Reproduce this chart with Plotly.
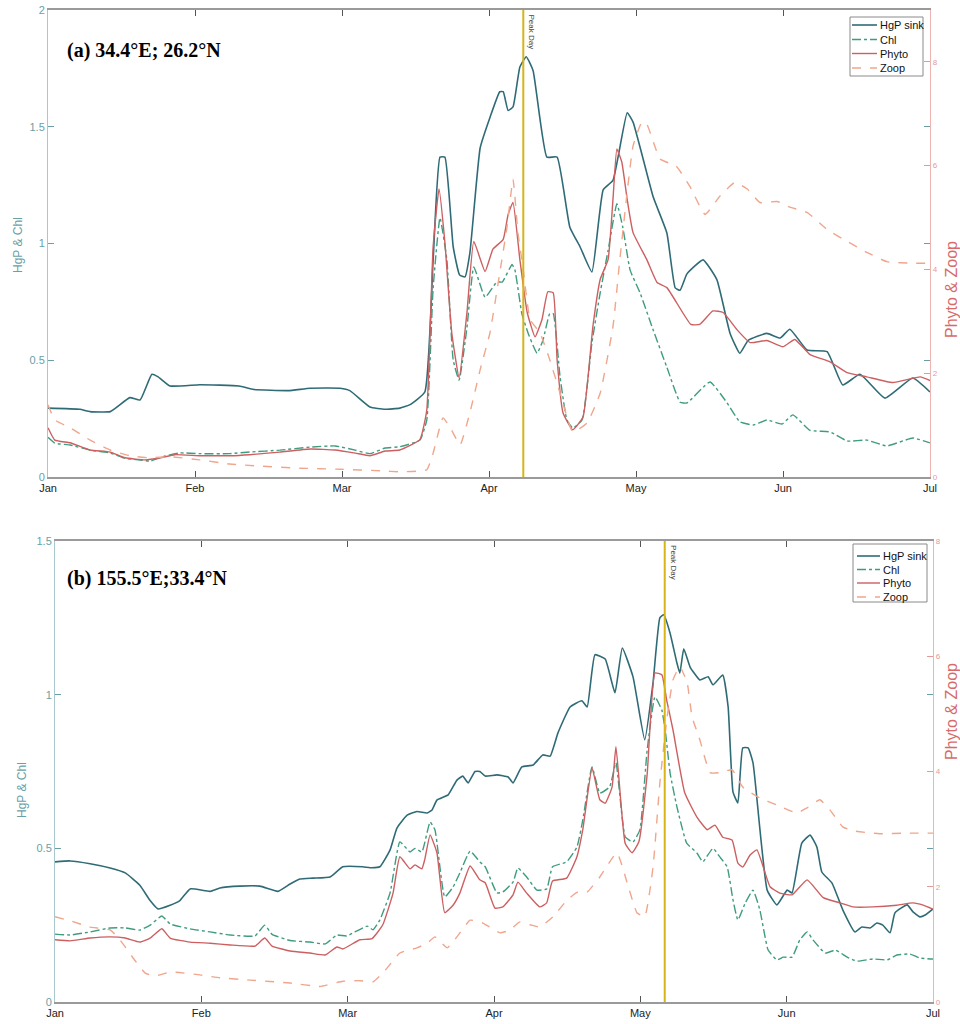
import plotly.graph_objects as go

# ---------------- DATA (day of year from Jan 1; months drawn as 30-day steps) ----------------
MONTH_TICKS = [0, 30, 60, 90, 120, 150, 180]
MONTH_LABELS = ["Jan", "Feb", "Mar", "Apr", "May", "Jun", "Jul"]

# Panel (a) 34.4E; 26.2N
A_hgp_day = [0, 6.5, 8.6, 12.7, 16.7, 18.8, 21.2, 22.4, 24.9, 31, 39, 42, 49, 53.5, 59.6, 61.6, 65.7, 68.8, 71.8, 73.9,
             76.9, 78.6, 80, 81, 82.7, 84, 85.1, 86.1, 88.2, 90.2, 92.2, 92.9, 93.9, 94.9, 96.3, 97.6, 99, 101.8, 103.9,
             106.5, 108.6, 111, 113.3, 115.3, 118.2, 119.4, 123.5, 126.3, 128, 129, 130.4, 133.7, 136.5, 139.2, 141.2,
             142.9, 146.7, 149.4, 151.4, 154.9, 159, 162.2, 165.7, 170.8, 176.5, 180]
A_hgp = [0.295, 0.29, 0.28, 0.28, 0.34, 0.33, 0.44, 0.43, 0.39, 0.395, 0.39, 0.375, 0.37, 0.38, 0.38, 0.37, 0.30, 0.29,
         0.295, 0.31, 0.364, 0.93, 1.37, 1.37, 0.985, 0.865, 0.857, 0.96, 1.41, 1.54, 1.65, 1.65, 1.57, 1.585, 1.756,
         1.80, 1.74, 1.37, 1.37, 1.07, 0.985, 0.878, 1.23, 1.27, 1.56, 1.52, 1.2, 1.045, 0.81, 0.80, 0.87, 0.93, 0.845,
         0.615, 0.53, 0.585, 0.615, 0.595, 0.633, 0.544, 0.537, 0.394, 0.44, 0.338, 0.424, 0.364]

A_chl_day = [0, 1.4, 4.5, 8.6, 12.7, 15.7, 18.8, 20.8, 23.9, 26.9, 31, 37.1, 41.2, 47.3, 53.5, 58.6, 62.7, 65.7, 68.8,
             71.8, 75.9, 77.3, 78.6, 80, 81.4, 82.7, 83.9, 85.5, 86.9, 89.2, 91.6, 92.7, 94.7, 95.3, 96.7, 98, 99.8, 101,
             102.4, 103.1, 104.5, 105.9, 107.1, 109, 111, 112.7, 114.3, 116.1, 117.3, 118.8, 120.8, 123.5, 126.3, 129,
             130.4, 135.1, 138.6, 141.2, 143.9, 146.7, 149.8, 152, 155.5, 159.6, 163.1, 167.1, 171.2, 176.5, 180]
A_chl = [0.17, 0.145, 0.137, 0.115, 0.103, 0.08, 0.073, 0.068, 0.09, 0.103, 0.1, 0.1, 0.107, 0.115, 0.128, 0.133, 0.115,
         0.1, 0.124, 0.13, 0.158, 0.244, 0.81, 1.11, 0.93, 0.50, 0.415, 0.64, 0.90, 0.77, 0.835, 0.835, 0.91, 0.886, 0.70,
         0.615, 0.53, 0.585, 0.70, 0.70, 0.43, 0.244, 0.21, 0.244, 0.574, 0.79, 0.97, 1.17, 1.07, 0.886, 0.79, 0.63, 0.47,
         0.32, 0.317, 0.407, 0.317, 0.236, 0.223, 0.244, 0.227, 0.266, 0.2, 0.193, 0.154, 0.158, 0.133, 0.167, 0.146]

A_phy_day = [0, 1.4, 4.5, 8.6, 12.7, 15.7, 19.8, 22.9, 25.9, 31, 37.1, 41.2, 47.3, 53.5, 58.6, 62.7, 65.7, 68.8, 71.8,
             75.9, 77.3, 78.6, 79.8, 81, 82.4, 83.9, 85.5, 86.9, 89.2, 90.8, 92.9, 93.9, 94.9, 96.3, 97.8, 99.4, 100.8,
             102, 103.1, 103.9, 105.1, 107.1, 109.2, 111.2, 112.7, 114.3, 115.3, 116.1, 117.1, 118.2, 119.4, 122.2, 124.3,
             126.3, 131.2, 133, 135.7, 137.8, 140.6, 143.3, 146.7, 150, 152.4, 155.5, 159.6, 163.1, 167.1, 172.4, 178,
             180]
A_phy = [0.95, 0.71, 0.66, 0.52, 0.48, 0.37, 0.33, 0.37, 0.43, 0.41, 0.41, 0.43, 0.48, 0.54, 0.52, 0.46, 0.41, 0.5,
         0.52, 0.72, 1.29, 4.44, 5.55, 4.52, 2.78, 1.91, 3.17, 4.54, 3.96, 4.39, 4.58, 5.06, 5.29, 4.19, 3.17, 2.7,
         3.03, 3.57, 3.55, 2.26, 1.24, 0.91, 1.16, 2.9, 3.81, 4.19, 5.35, 6.32, 6.07, 5.35, 4.71, 4.19, 3.75, 3.65,
         2.94, 2.94, 3.2, 3.17, 2.84, 2.59, 2.63, 2.51, 2.65, 2.36, 2.22, 2.01, 1.93, 1.82, 1.93, 1.86]

A_zoo_day = [0, 1.4, 4.5, 8.6, 12.7, 16.7, 20.8, 24.9, 31, 37.1, 43.3, 51.4, 59.6, 67.8, 72, 77.3, 78.6, 80.6, 82, 84.1,
             86.1, 88.2, 90.2, 92.2, 93.7, 94.9, 95.9, 96.9, 98.4, 100.4, 102.4, 104.5, 107.1, 110, 112.7, 115.3, 116.7,
             118.2, 119.4, 121.2, 122.2, 124.9, 128.2, 131, 134.1, 137.1, 140.2, 142.7, 145.3, 148.8, 151.4, 154.9, 159,
             163.1, 167.1, 171.2, 176.5, 180]
A_zoo = [1.39, 1.1, 0.95, 0.71, 0.52, 0.41, 0.37, 0.39, 0.33, 0.25, 0.21, 0.17, 0.15, 0.12, 0.1, 0.14, 0.46, 1.14, 0.97,
         0.62, 1.24, 2.07, 2.78, 3.94, 4.83, 5.74, 4.71, 4.06, 3.03, 2.78, 2.26, 1.62, 0.87, 1.04, 1.62, 2.9, 4.19,
         5.49, 6.38, 6.84, 6.8, 6.13, 5.99, 5.6, 5.06, 5.41, 5.68, 5.55, 5.29, 5.31, 5.2, 5.1, 4.77, 4.54, 4.33, 4.15,
         4.12, 4.12]
A_PEAK_DAY = 97
A_TITLE = "(a) 34.4°E; 26.2°N"

# Panel (b) 155.5E; 33.4N
B_hgp_day = [0, 3.1, 7.2, 11.3, 14.4, 17.4, 19.5, 21.1, 23.6, 25.6, 27.7, 31.8, 33.8, 37.9, 42, 45.7, 48.2, 50.2, 52.9,
             56.4, 59, 63.1, 64.6, 66.6, 68.7, 70.1, 72.2, 74.2, 76.3, 77.3, 78.3, 80.6, 82.4, 83.6, 84.7, 86.1, 87.1,
             88.2, 90.6, 92.9, 93.9, 95.7, 98, 100, 101.5, 103.1, 105.6, 108, 109.1, 110.7, 112.8, 114.8, 116.3, 118.5,
             120.9, 122.6, 124, 124.8, 126.1, 127.5, 128.1, 128.9, 130.2, 132.2, 133.9, 134.9, 136.9, 138, 139, 140, 141,
             142.1, 143.1, 146, 148, 150.1, 151.1, 153.1, 154.8, 156.2, 157.2, 159.3, 161.5, 164, 165.4, 167.1, 168.5,
             169.7, 171.2, 172.2, 174.7, 175.9, 177.3, 178.4, 180]
B_hgp = [0.456, 0.459, 0.45, 0.436, 0.42, 0.38, 0.33, 0.303, 0.315, 0.33, 0.368, 0.36, 0.371, 0.377, 0.377, 0.36, 0.384,
         0.4, 0.403, 0.407, 0.44, 0.44, 0.437, 0.44, 0.495, 0.566, 0.608, 0.62, 0.615, 0.625, 0.657, 0.674, 0.722, 0.735,
         0.713, 0.75, 0.75, 0.735, 0.739, 0.732, 0.713, 0.765, 0.771, 0.804, 0.8, 0.875, 0.96, 0.98, 0.96, 1.13, 1.116,
         1.006, 1.152, 1.058, 0.853, 1.038, 1.25, 1.26, 1.2, 1.103, 1.07, 1.149, 1.09, 1.048, 1.058, 1.032, 1.064, 0.96,
         0.683, 0.648, 0.827, 0.827, 0.778, 0.364, 0.316, 0.364, 0.355, 0.517, 0.543, 0.504, 0.423, 0.387, 0.3, 0.228,
         0.244, 0.241, 0.257, 0.25, 0.225, 0.29, 0.316, 0.293, 0.277, 0.283, 0.303]

B_chl_day = [0, 3.1, 7.2, 11.3, 14.4, 17.4, 19.5, 21.9, 23.6, 27.7, 31.8, 35.9, 41, 43, 44.5, 48.2, 52.3, 55.4, 57.8,
             59.8, 64, 65.2, 66.6, 68.7, 70.7, 72.8, 73.8, 75.2, 76.9, 77.9, 79.9, 81.6, 83, 85.1, 87.1, 88.2, 90.6, 91.8,
             93.9, 94.9, 96.7, 98.8, 100.8, 102, 104.9, 107, 108.2, 110.1, 111.7, 113.7, 115, 116.9, 118.5, 119.9, 121.4,
             123, 124.4, 125.1, 126.1, 127.5, 129.5, 131.6, 132.8, 134.9, 136.3, 137.8, 139, 140, 141.5, 143.1, 144.5,
             146.2, 148, 149.3, 151.1, 152.7, 154.2, 155.4, 157.9, 160, 162.4, 164.4, 167.7, 170.6, 172.6, 175.3, 177.3,
             180]
B_chl = [0.221, 0.218, 0.228, 0.241, 0.241, 0.234, 0.25, 0.28, 0.254, 0.238, 0.228, 0.218, 0.215, 0.25, 0.22, 0.2, 0.195,
         0.189, 0.218, 0.215, 0.247, 0.235, 0.267, 0.355, 0.521, 0.488, 0.5, 0.488, 0.586, 0.56, 0.342, 0.374, 0.42,
         0.491, 0.456, 0.44, 0.355, 0.358, 0.39, 0.436, 0.407, 0.364, 0.368, 0.44, 0.456, 0.504, 0.592, 0.765, 0.68, 0.7,
         0.778, 0.537, 0.521, 0.56, 0.82, 0.993, 0.95, 0.885, 0.745, 0.635, 0.517, 0.485, 0.456, 0.5, 0.472, 0.44, 0.332,
         0.267, 0.322, 0.364, 0.3, 0.169, 0.137, 0.146, 0.146, 0.202, 0.228, 0.202, 0.159, 0.169, 0.146, 0.133, 0.14,
         0.137, 0.153, 0.156, 0.143, 0.14]

B_phy_day = [0, 3.1, 7.2, 11.3, 14.4, 17.4, 19.5, 21.9, 23.6, 27.7, 31.8, 35.9, 41, 43, 44.5, 48.2, 52.3, 55.4, 57.8,
             59, 62.5, 65, 67.2, 69.3, 70.7, 72.8, 73.8, 75.2, 75.8, 76.9, 78.3, 79.9, 81.6, 83, 85.1, 87.1, 88.2, 90.2,
             91.8, 93.9, 94.9, 96.7, 99.4, 100.8, 102, 104.9, 107, 108.2, 110.1, 111.7, 112.8, 114.2, 115, 116.9, 118.3,
             119.7, 121.4, 123, 124.4, 125.4, 126.7, 129.1, 131.6, 133.7, 135.3, 136.9, 138.8, 140, 141, 142.5, 143.9,
             146.6, 148.6, 151.1, 154.2, 157.5, 160.9, 163.6, 167.7, 172.6, 175.9, 178, 180]
B_phy = [1.08, 1.06, 1.11, 1.13, 1.11, 1.04, 1.11, 1.27, 1.11, 1.04, 1.02, 0.99, 0.97, 1.11, 0.97, 0.885, 0.85, 0.816,
         0.955, 0.92, 1.08, 1.1, 1.34, 1.89, 2.52, 2.31, 2.38, 2.31, 2.47, 2.9, 2.59, 1.55, 1.68, 1.89, 2.36, 2.12, 2.07,
         1.63, 1.65, 1.86, 2.08, 1.89, 1.65, 1.72, 2.1, 2.15, 2.52, 2.99, 4.06, 3.51, 3.45, 3.73, 4.43, 2.75, 2.59, 2.78,
         3.95, 5.71, 5.68, 5.24, 4.72, 3.63, 3.21, 2.99, 3.07, 2.86, 2.81, 2.41, 2.34, 2.55, 2.64, 2.0, 1.89, 1.86, 2.12,
         1.81, 1.72, 1.65, 1.65, 1.68, 1.72, 1.68, 1.61]

B_zoo_day = [0, 3.1, 7.2, 11.3, 13.3, 16.4, 18.5, 20.5, 23.6, 29.7, 33.8, 40, 48.2, 54.3, 59, 62.5, 65.2, 67.2, 70.7,
             74.2, 76.3, 77.9, 80.4, 82.4, 85.1, 87.7, 91.2, 93.3, 95.3, 97.4, 99.4, 102.1, 105, 107.2, 109.1, 111.7,
             115.2, 117.3, 119.3, 120.9, 122.6, 124, 125.5, 126.7, 128.1, 129.6, 130.6, 132.2, 134.3, 136.3, 138.8, 141,
             144.5, 148, 152.1, 154.2, 156.8, 158.9, 161.5, 163.6, 169.1, 174.7, 180]
B_zoo = [1.48, 1.41, 1.3, 1.25, 1.08, 0.72, 0.5, 0.45, 0.52, 0.47, 0.42, 0.38, 0.33, 0.27, 0.36, 0.37, 0.35, 0.5, 0.85,
         0.94, 1.02, 1.13, 0.94, 1.13, 1.42, 1.37, 1.2, 1.25, 1.39, 1.34, 1.3, 1.48, 1.77, 1.91, 1.91, 2.17, 2.59, 2.07,
         1.55, 1.48, 2.34, 3.8, 4.95, 5.59, 5.82, 5.54, 4.95, 4.55, 3.98, 3.98, 4.03, 3.73, 3.54, 3.42, 3.28, 3.37, 3.51,
         3.33, 3.04, 2.97, 2.92, 2.93, 2.93]
B_PEAK_DAY = 125
B_TITLE = "(b) 155.5°E;33.4°N"

SERIES_NAMES = ["HgP sink", "Chl", "Phyto", "Zoop"]

# ---------------- STYLE ----------------
W, H = 960, 1024


def fx(p):
    return p / W


def fy(p):
    return 1 - p / H


C_HGP = "#2f6b76"
C_CHL = "#3f9c7f"
C_PHY = "#cc5f60"
C_ZOO = "#f0a68c"
C_LEFT = "#6a9fa8"
C_RIGHT = "#e59a9a"
C_PEAK = "#d8b419"
C_GREY = "#9a9a9a"
FONT = "Liberation Sans, Arial"

fig = go.Figure()

panels = [
    dict(x="x", yl="y", yr="y2",
         data=[(A_hgp_day, A_hgp), (A_chl_day, A_chl), (A_phy_day, A_phy), (A_zoo_day, A_zoo)]),
    dict(x="x2", yl="y3", yr="y4",
         data=[(B_hgp_day, B_hgp), (B_chl_day, B_chl), (B_phy_day, B_phy), (B_zoo_day, B_zoo)]),
]
styles = [
    dict(color=C_HGP, dash="solid", width=1.6, side="l"),
    dict(color=C_CHL, dash="dashdot", width=1.4, side="l"),
    dict(color=C_PHY, dash="solid", width=1.4, side="r"),
    dict(color=C_ZOO, dash="dash", width=1.4, side="r"),
]

for p in panels:
    for name, (dx, dy), st in zip(SERIES_NAMES, p["data"], styles):
        fig.add_trace(go.Scatter(
            x=dx, y=dy, mode="lines", name=name, showlegend=False,
            line=dict(color=st["color"], dash=st["dash"], width=st["width"], shape="spline", smoothing=0.4),
            xaxis=p["x"], yaxis=p["yl"] if st["side"] == "l" else p["yr"],
        ))


def xax(domain, anchor):
    return dict(domain=domain, anchor=anchor, range=[0, 180], tickvals=MONTH_TICKS, ticktext=MONTH_LABELS,
                showline=True, linecolor=C_GREY, linewidth=2, mirror="ticks", ticks="inside", ticklen=6,
                tickcolor="#555", tickwidth=1, showgrid=False, zeroline=False, automargin=False,
                tickfont=dict(family=FONT, size=11, color="#222"))


def yl(domain, anchor, rng, tv, tt):
    return dict(domain=domain, anchor=anchor, range=rng, tickvals=tv, ticktext=tt, showline=True,
                linecolor="#a9c8cd", linewidth=1, ticks="inside", ticklen=6, tickcolor=C_LEFT, mirror="ticks",
                showgrid=False, zeroline=False, automargin=False,
                tickfont=dict(family=FONT, size=11, color=C_LEFT))


def yr(overlay, anchor, rng):
    return dict(overlaying=overlay, anchor=anchor, side="right", range=rng, tickvals=[0, 2, 4, 6, 8],
                showline=True, linecolor="#eeb4b4", linewidth=1.2, ticks="inside", ticklen=6, tickcolor=C_RIGHT,
                showgrid=False, zeroline=False, automargin=False,
                tickfont=dict(family=FONT, size=8, color=C_RIGHT))


xa_dom = [fx(48), fx(930)]
xb_dom = [fx(55), fx(933)]
ya_dom = [fy(477), fy(10)]
yb_dom = [fy(1002), fy(541)]

fig.update_layout(
    width=W, height=H, autosize=False, margin=dict(l=0, r=0, t=0, b=0, pad=0, autoexpand=False),
    paper_bgcolor="white", plot_bgcolor="white", showlegend=False, hovermode=False,
    xaxis=xax(xa_dom, "y"),
    yaxis=yl(ya_dom, "x", [0, 2], [0, 0.5, 1, 1.5, 2], ["0", "0.5", "1", "1.5", "2"]),
    yaxis2=yr("y", "x", [0, 9]),
    xaxis2=xax(xb_dom, "y3"),
    yaxis3=yl(yb_dom, "x2", [0, 1.5], [0, 0.5, 1, 1.5], ["0", "0.5", "1", "1.5"]),
    yaxis4=yr("y3", "x2", [0, 8]),
)

# Peak day lines
for xr, yref, day in [("x", "y", A_PEAK_DAY), ("x2", "y3", B_PEAK_DAY)]:
    fig.add_shape(type="line", xref=xr, yref=yref + " domain", x0=day, x1=day, y0=0, y1=1,
                  line=dict(color=C_PEAK, width=2))
    fig.add_annotation(xref=xr, yref=yref + " domain", x=day, y=0.995, xshift=8, yanchor="top",
                       text="Peak Day", textangle=90, showarrow=False,
                       font=dict(family=FONT, size=8, color="#444"))

# Legends drawn as boxes with line samples (compact MATLAB-style)
legend_specs = [
    dict(box=(850, 17, 923, 76), rows=[25, 39.5, 53.5, 68], x0=852, x1=877, tx=878),
    dict(box=(853, 544, 927, 602), rows=[556, 569.5, 583, 597], x0=857, x1=880, tx=881),
]
for spec in legend_specs:
    bx0, by0, bx1, by1 = spec["box"]
    fig.add_shape(type="rect", xref="paper", yref="paper", x0=fx(bx0), x1=fx(bx1), y0=fy(by1), y1=fy(by0),
                  line=dict(color="#8a8a8a", width=1), fillcolor="white", layer="above")
    for name, st, ry in zip(SERIES_NAMES, styles, spec["rows"]):
        fig.add_shape(type="line", xref="paper", yref="paper", x0=fx(spec["x0"]), x1=fx(spec["x1"]),
                      y0=fy(ry), y1=fy(ry), layer="above",
                      line=dict(color=st["color"], dash=st["dash"], width=st["width"]))
        fig.add_annotation(xref="paper", yref="paper", x=fx(spec["tx"]), y=fy(ry), xanchor="left",
                           yanchor="middle", text=name, showarrow=False,
                           font=dict(family=FONT, size=11, color="#111"))

# Panel titles
for title, ypix in [(A_TITLE, 50), (B_TITLE, 578)]:
    fig.add_annotation(xref="paper", yref="paper", x=fx(65), y=fy(ypix), xanchor="left", yanchor="middle",
                       text="<b>" + title + "</b>", showarrow=False,
                       font=dict(family="Liberation Serif, Times New Roman", size=20, color="#000"))

# Axis labels
for txt, xp, ypix, col, size in [("HgP & Chl", 18, 245, C_LEFT, 12), ("Phyto & Zoop", 951, 290, "#d96a6a", 16),
                                  ("HgP & Chl", 22, 790, C_LEFT, 12), ("Phyto & Zoop", 951, 712, "#d96a6a", 16)]:
    fig.add_annotation(xref="paper", yref="paper", x=fx(xp), y=fy(ypix), text=txt, textangle=-90,
                       showarrow=False, xanchor="center", yanchor="middle",
                       font=dict(family=FONT, size=size, color=col))

# remove the page's default body margin so the 960x1024 figure fills the window exactly
PAGE_JS = ("document.body.style.margin='0';document.body.style.padding='0';"
           "document.documentElement.style.overflow='hidden';document.body.style.overflow='hidden';")
fig.write_html("out.html", config={"responsive": False, "displayModeBar": False, "staticPlot": True},
               post_script=PAGE_JS)
